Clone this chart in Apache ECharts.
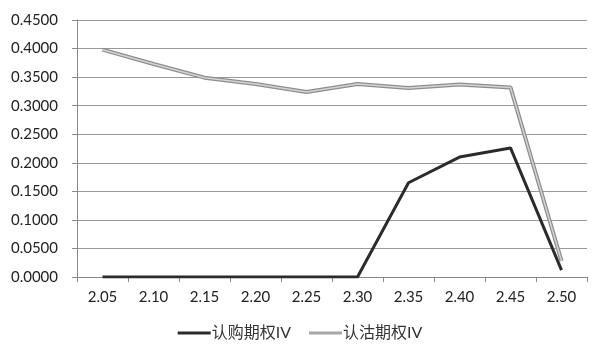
<!DOCTYPE html>
<html>
<head>
<meta charset="utf-8">
<script src="https://cdn.jsdelivr.net/npm/echarts@6/dist/echarts.min.js"></script>
<style>
html, body { margin: 0; padding: 0; background: #fff; }
#chart { width: 600px; height: 353px; }
</style>
</head>
<body>
<div id="chart"></div>
<script>
// 行权价
var strikes = ['2.05', '2.10', '2.15', '2.20', '2.25', '2.30', '2.35', '2.40', '2.45', '2.50'];
// 认购期权IV
var callIV = [0, 0, 0, 0, 0, 0, 0.165, 0.210, 0.226, 0.012];
// 认沽期权IV
var putIV = [0.398, 0.373, 0.349, 0.338, 0.324, 0.338, 0.331, 0.337, 0.332, 0.028];

var fontFam = 'Lato, "Noto Sans CJK SC", sans-serif';
var lineIcon = 'path://M0,0 L33,0 L33,3 L0,3 Z';
var chart = echarts.init(document.getElementById('chart'));
chart.setOption({
    animation: false,
    grid: { left: 77, right: 13, top: 20, bottom: 76 },
    legend: {
        data: [
            { name: '认购期权IV', icon: lineIcon, itemStyle: { color: '#2b2b2b' } },
            { name: '认沽期权IV', icon: lineIcon, itemStyle: { color: '#a8a8a8' } }
        ],
        top: 320,
        left: 'center',
        itemWidth: 33,
        itemHeight: 3,
        itemGap: 18,
        textStyle: { fontFamily: fontFam, fontSize: 16, color: '#333', padding: [0, 0, 0, -4] }
    },
    xAxis: {
        type: 'category',
        data: strikes,
        boundaryGap: true,
        axisLine: { lineStyle: { color: '#888', width: 1 } },
        axisTick: { show: true, length: 5, lineStyle: { color: '#888' } },
        axisLabel: { fontFamily: fontFam, fontSize: 15, color: '#222', margin: 13 }
    },
    yAxis: {
        type: 'value',
        min: 0,
        max: 0.45,
        interval: 0.05,
        axisLine: { show: true, lineStyle: { color: '#888', width: 1 } },
        axisTick: { show: true, length: 5, lineStyle: { color: '#888' } },
        splitLine: { lineStyle: { color: '#999', width: 1 } },
        axisLabel: {
            fontFamily: fontFam, fontSize: 15, color: '#222', margin: 19,
            formatter: function (v) { return v.toFixed(4); }
        }
    },
    series: [
        {
            name: '认购期权IV',
            type: 'line',
            data: callIV,
            symbol: 'none',
            color: '#2b2b2b',
            lineStyle: { color: '#2b2b2b', width: 3 },
            z: 3
        },
        {
            name: '认沽期权IV',
            type: 'line',
            data: putIV,
            symbol: 'none',
            color: '#a8a8a8',
            lineStyle: { color: '#8e8e8e', width: 4 },
            z: 4
        },
        {
            // 认沽线的浅色内芯
            name: 'putInner',
            type: 'line',
            data: putIV,
            symbol: 'none',
            lineStyle: { color: '#d4d4d4', width: 1.5 },
            z: 5
        }
    ]
});
</script>
</body>
</html>
